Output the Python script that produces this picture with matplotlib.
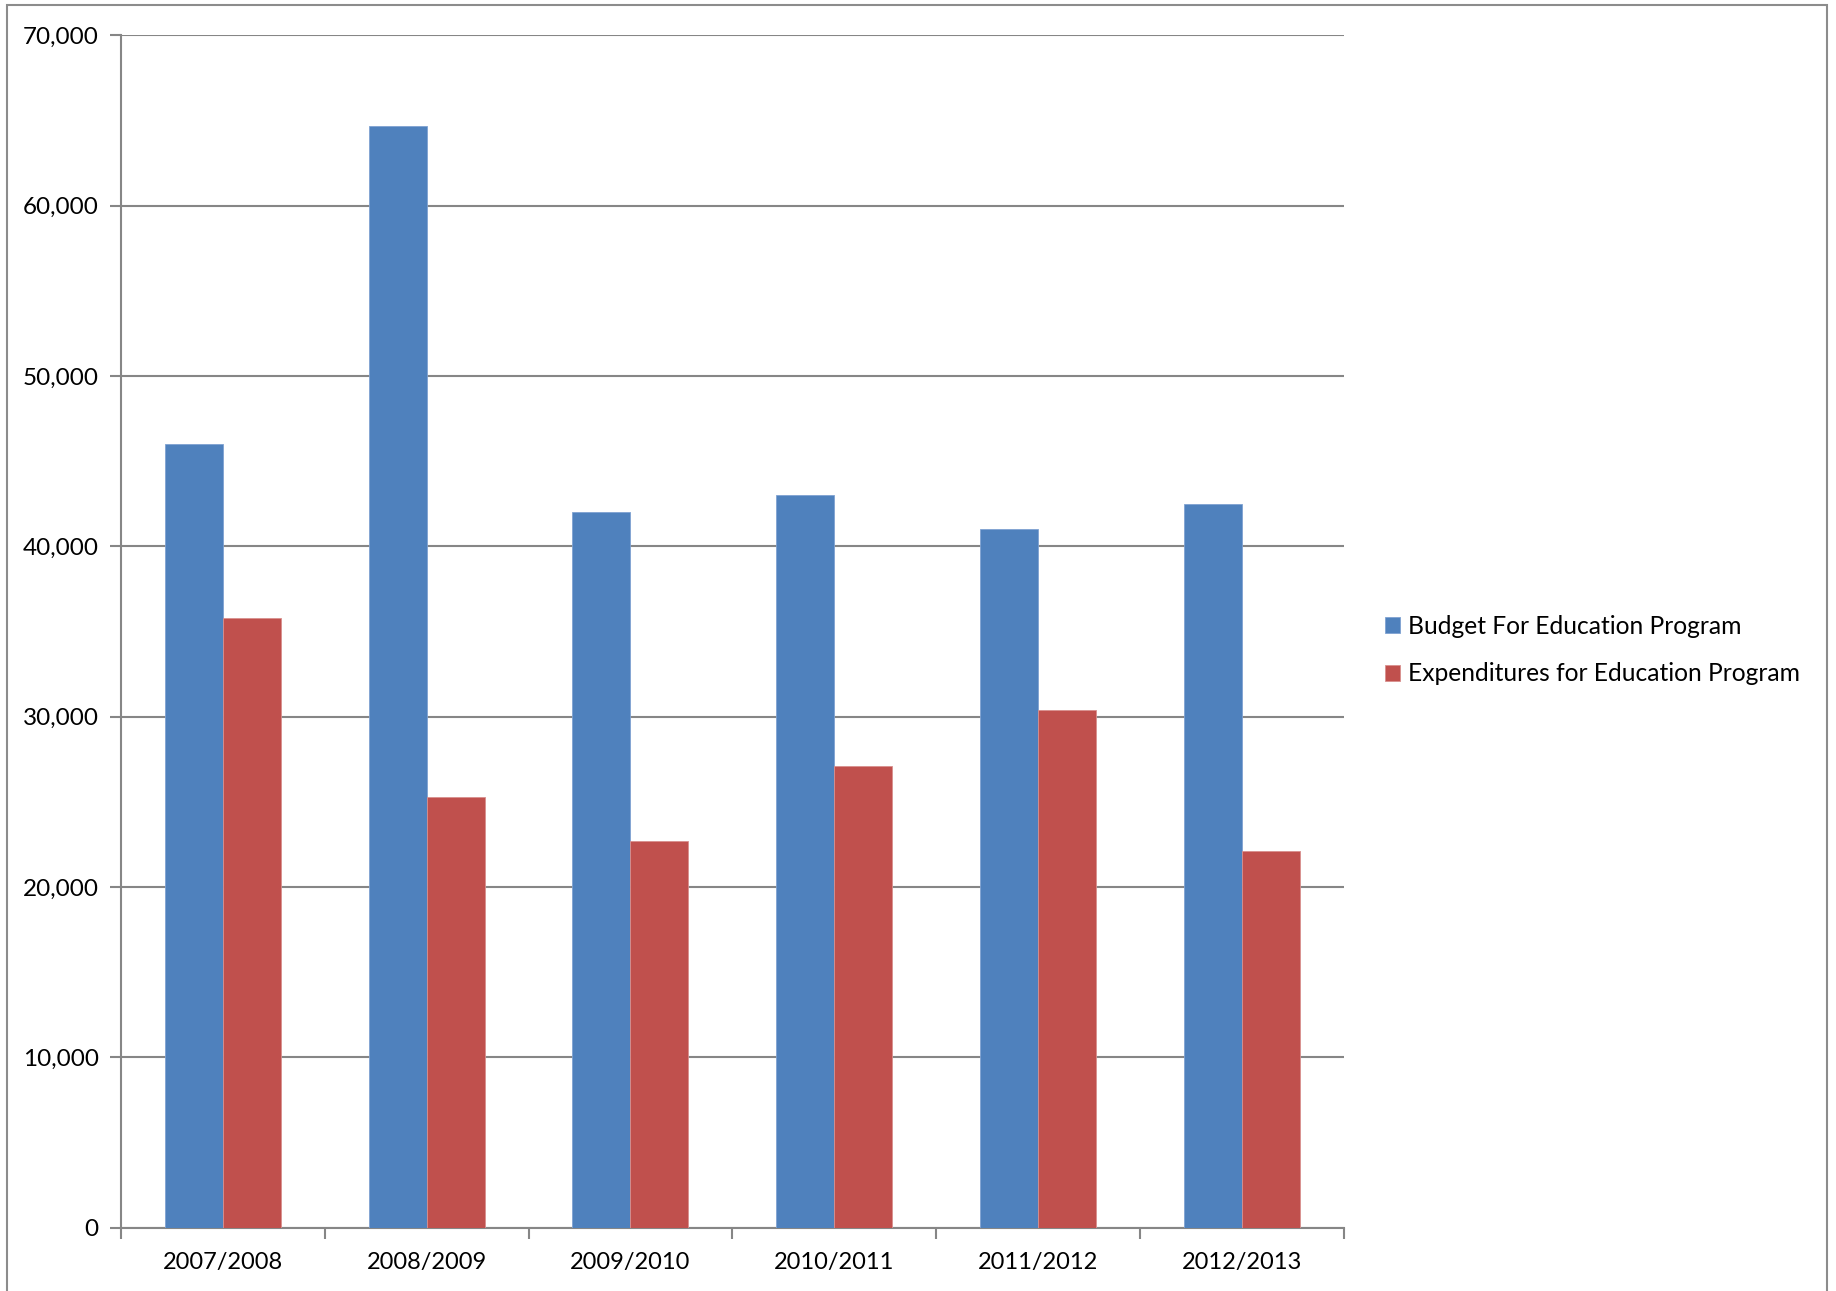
import matplotlib
matplotlib.use("Agg")
import matplotlib.pyplot as plt
import numpy as np
from matplotlib.patches import Rectangle
from matplotlib.ticker import FuncFormatter

categories = ["2007/2008", "2008/2009", "2009/2010", "2010/2011", "2011/2012", "2012/2013"]
budget = [46000, 64700, 42000, 43000, 41000, 42500]
expenditures = [35800, 25300, 22700, 27100, 30400, 22100]
series_names = ["Budget For Education Program", "Expenditures for Education Program"]
yticks = [0, 10000, 20000, 30000, 40000, 50000, 60000, 70000]

plt.rcParams['font.family'] = ['Lato', 'DejaVu Sans']

W, H = 1836, 1291
fig = plt.figure(figsize=(W / 100, H / 100), dpi=100)
fig.patch.set_facecolor("white")

# outer chart border
fig.patches.append(Rectangle((7 / W, -0.01), (1827 - 7) / W, (H - 5) / H + 0.01,
                             transform=fig.transFigure, fill=False,
                             edgecolor="#8c8c8c", linewidth=1.5))

left, right = 121 / W, 1343.5 / W
bottom, top = (H - 1227.5) / H, (H - 35.4) / H
ax = fig.add_axes([left, bottom, right - left, top - bottom])

x = np.arange(len(categories))
bw = 0.285
blue = "#4f81bd"
red = "#c0504d"
b1 = ax.bar(x - bw / 2, budget, bw, color=blue, edgecolor="#7fa2d2", linewidth=0.6,
            label=series_names[0], zorder=3)
b2 = ax.bar(x + bw / 2, expenditures, bw, color=red, edgecolor="#d8908e", linewidth=0.6,
            label=series_names[1], zorder=3)

ax.set_xlim(-0.5, len(categories) - 0.5)
ax.set_ylim(0, 70000)
ax.set_yticks(yticks)
ax.yaxis.set_major_formatter(FuncFormatter(lambda v, p: f"{int(v):,}"))
ax.set_xticks(x)
ax.set_xticklabels(categories)
ax.set_xticks(np.arange(-0.5, len(categories), 1.0), minor=True)
ax.tick_params(axis="x", which="major", length=0, pad=18, labelsize=17)
ax.tick_params(axis="x", which="minor", length=8, width=1.5, color="#868686", direction="out")
ax.tick_params(axis="y", length=8, width=1.5, color="#868686", direction="out", pad=8,
               labelsize=17.5)

ax.grid(axis="y", color="#868686", linewidth=1.5, zorder=0)
ax.set_axisbelow(True)
for s in ["top", "right"]:
    ax.spines[s].set_visible(False)
for s in ["left", "bottom"]:
    ax.spines[s].set_color("#868686")
    ax.spines[s].set_linewidth(1.5)

fig.legend(handles=[b1, b2], labels=series_names, loc="center left",
           bbox_to_anchor=(1385 / W, 1 - 650 / H), frameon=False,
           fontsize=17.7, handlelength=0.62, handleheight=0.62, handletextpad=0.3,
           labelspacing=1.0, borderaxespad=0, borderpad=0)

fig.savefig("out.png", dpi=100, facecolor="white")
